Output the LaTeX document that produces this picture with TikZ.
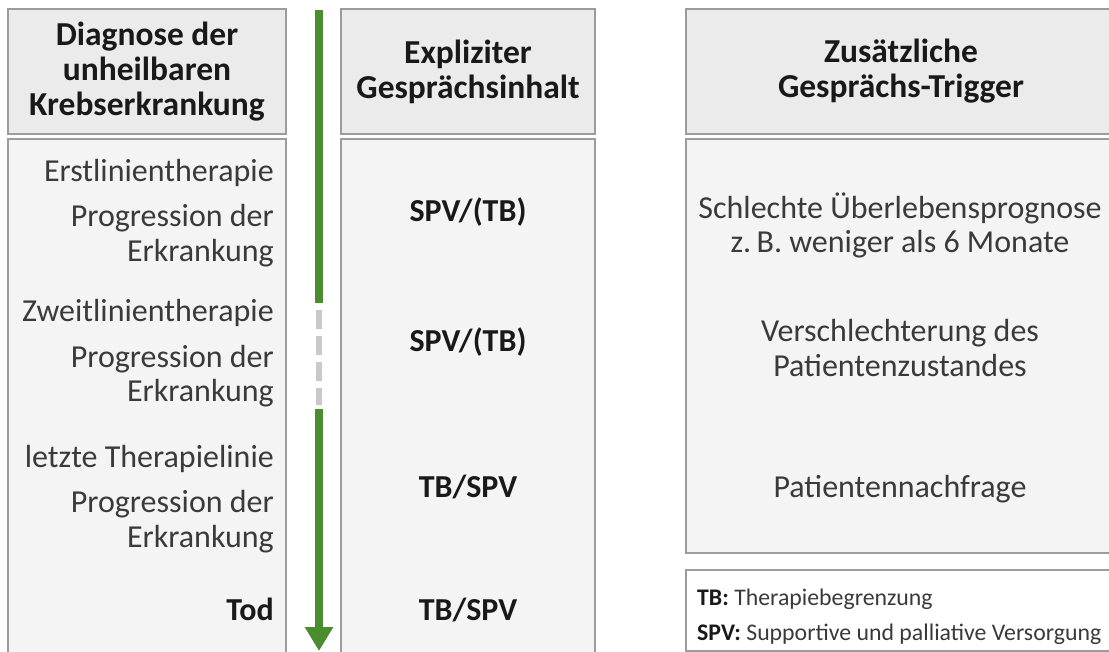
\documentclass[tikz,border=0pt]{standalone}
\usepackage{fontspec}
\setmainfont{Carlito}
\usetikzlibrary{arrows.meta}
\definecolor{kopfgrau}{HTML}{EBEBEB}
\definecolor{feldgrau}{HTML}{F4F4F4}
\definecolor{randgrau}{HTML}{9C9C9C}
\definecolor{pfeilgruen}{HTML}{4A8C2E}
\definecolor{strichgrau}{HTML}{C9C9C9}
\definecolor{schrift}{HTML}{3A3A3A}
\begin{document}
\begin{tikzpicture}[x=1pt,y=-1pt,
  kopf/.style={draw=randgrau,fill=kopfgrau,line width=1.5pt,align=center,
    text=black!90,font=\fontsize{33.5}{35}\selectfont\bfseries},
  feld/.style={draw=randgrau,fill=feldgrau,line width=1.5pt},
  zeile/.style={text=schrift,font=\fontsize{32}{35}\selectfont,inner sep=0pt},
  fett/.style={text=black!90,font=\fontsize{32}{35}\selectfont\bfseries,inner sep=0pt},
  legende/.style={text=schrift,font=\fontsize{23.8}{35}\selectfont,inner sep=0pt},
  verlauf/.style={draw=pfeilgruen,line width=8pt}]
\useasboundingbox (0,0) rectangle (1109,652);
\clip (0,0) rectangle (1109,652);

% Spaltenkoepfe
\node[kopf,minimum width=278,minimum height=125] (diagnose) at (147,71.5)
  {Diagnose der\\unheilbaren\\Krebserkrankung};
\node[kopf,minimum width=254,minimum height=125] (inhalt) at (468,71.5)
  {Expliziter\\Gesprächsinhalt};
\node[kopf,minimum width=430,minimum height=125] (trigger) at (901,71.5)
  {Zusätzliche\\Gesprächs-Trigger};

% Felder
\draw[feld] (8,139) rectangle (286,670);
\draw[feld] (341,139) rectangle (595,670);
\draw[feld] (686,139) rectangle (1116,553);
\draw[randgrau,fill=white,line width=1.5pt] (686,570) rectangle (1116,651);

% linke Spalte
\foreach \y/\t in {182/Erstlinientherapie,227/Progression der,262/Erkrankung,
    322/Zweitlinientherapie,367/Progression der,402/Erkrankung,
    467/letzte Therapielinie,512/Progression der,547/Erkrankung}
  \node[zeile,anchor=base east] (l\y) at (274,\y) {\t};
\node[fett,anchor=base east] (tod) at (274,620) {Tod};

% mittlere Spalte
\foreach \y/\t in {222/{SPV/(TB)},352/{SPV/(TB)},497/{TB/SPV},620/{TB/SPV}}
  \node[fett,anchor=base] (m\y) at (468,\y) {\t};

% rechte Spalte
\foreach \y/\t in {219/Schlechte Überlebensprognose,253/z.\,B. weniger als 6 Monate,
    342/Verschlechterung des,377/Patientenzustandes,497/Patientennachfrage}
  \node[zeile,anchor=base] (r\y) at (900,\y) {\t};

% Legende
\node[legende,anchor=base west] (tb) at (697,605) {\textbf{\color{black!90}TB:} Therapiebegrenzung};
\node[legende,anchor=base west] (spv) at (697,640) {\textbf{\color{black!90}SPV:} Supportive und palliative Versorgung};

% Zeitachse
\coordinate (start) at (319,10);
\coordinate (luecke) at (319,303);
\coordinate (weiter) at (319,409);
\coordinate (ende) at (319,651);
\draw[verlauf] (start) -- (luecke);
\draw[strichgrau,line width=6pt,dash pattern=on 19pt off 7pt] ([yshift=-7pt]luecke) -- ([yshift=4pt]weiter);
\draw[verlauf,-{Triangle[width=27pt,length=24pt]}] (weiter) -- (ende);
\end{tikzpicture}
\end{document}
